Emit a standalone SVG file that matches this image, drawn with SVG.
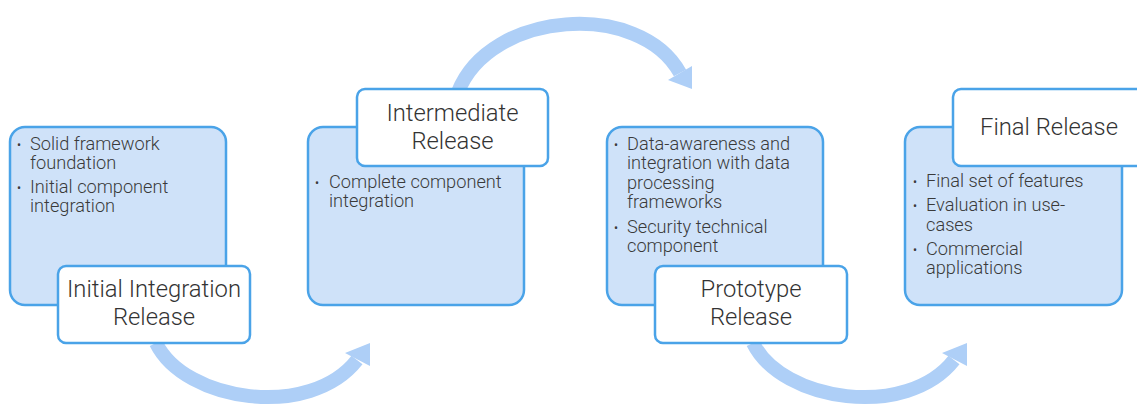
<svg xmlns="http://www.w3.org/2000/svg" width="1137" height="406" viewBox="0 0 1137 406">
<style>
.box{fill:#cfe2f9;stroke:#4aa3e8;stroke-width:2.5}
.lbl{fill:#ffffff;stroke:#4aa3e8;stroke-width:2.5}
.arc{fill:none;stroke:#aecff7;stroke-width:14}
.head{fill:#aecff7}
.t{font-family:Roboto,"Liberation Sans",sans-serif;font-weight:300;font-size:18.2px;fill:#3a3a3a}
.b{font-family:Roboto,"Liberation Sans",sans-serif;font-size:12px;fill:#3a3a3a}
.h{font-family:Roboto,"Liberation Sans",sans-serif;font-weight:300;font-size:23.8px;fill:#333333;text-anchor:middle}
</style>
<rect width="1137" height="406" fill="#ffffff"/>
<g id="connectors">
<path class="arc" d="M156,343 C185,402 310,420 357,360"/>
<polygon class="head" points="370,343 345,353 370,366"/>
<path class="arc" d="M458,92 C490,10 640,0 680,73"/>
<polygon class="head" points="692,89 668,80 692,66"/>
<path class="arc" d="M753,343 C782,402 907,420 954,360"/>
<polygon class="head" points="967,343 942,353 967,366"/>
</g>
<g id="node1">
<rect class="box" x="10" y="127" width="216" height="178" rx="15"/>
<text class="b" x="17" y="149">•</text>
<text class="t" x="30" y="150">Solid framework</text>
<text class="t" x="30" y="169">foundation</text>
<text class="b" x="17" y="192">•</text>
<text class="t" x="30" y="193">Initial component</text>
<text class="t" x="30" y="212">integration</text>
<rect class="lbl" x="58" y="266" width="192" height="77" rx="8"/>
<text class="h" x="154" y="297">Initial Integration</text>
<text class="h" x="154" y="325">Release</text>
</g>
<g id="node2">
<rect class="box" x="308" y="127" width="216" height="178" rx="15"/>
<text class="b" x="315" y="187">•</text>
<text class="t" x="329" y="188">Complete component</text>
<text class="t" x="329" y="207">integration</text>
<rect class="lbl" x="357" y="89" width="191" height="77" rx="8"/>
<text class="h" x="452.500" y="121">Intermediate</text>
<text class="h" x="452.500" y="149">Release</text>
</g>
<g id="node3">
<rect class="box" x="607" y="127" width="216" height="178" rx="15"/>
<text class="b" x="614" y="149">•</text>
<text class="t" x="627" y="150">Data-awareness and</text>
<text class="t" x="627" y="169">integration with data</text>
<text class="t" x="627" y="189">processing</text>
<text class="t" x="627" y="208">frameworks</text>
<text class="b" x="614" y="232">•</text>
<text class="t" x="627" y="233">Security technical</text>
<text class="t" x="627" y="252">component</text>
<rect class="lbl" x="655" y="266" width="192" height="77" rx="8"/>
<text class="h" x="751" y="297">Prototype</text>
<text class="h" x="751" y="325">Release</text>
</g>
<g id="node4">
<rect class="box" x="905" y="127" width="217" height="178" rx="15"/>
<text class="b" x="913" y="186">•</text>
<text class="t" x="926" y="187">Final set of features</text>
<text class="b" x="913" y="210">•</text>
<text class="t" x="926" y="211">Evaluation in use-</text>
<text class="t" x="926" y="231">cases</text>
<text class="b" x="913" y="254">•</text>
<text class="t" x="926" y="255">Commercial</text>
<text class="t" x="926" y="274">applications</text>
<rect class="lbl" x="953" y="89" width="192" height="77" rx="8"/>
<text class="h" x="1049" y="135">Final Release</text>
</g>
</svg>
